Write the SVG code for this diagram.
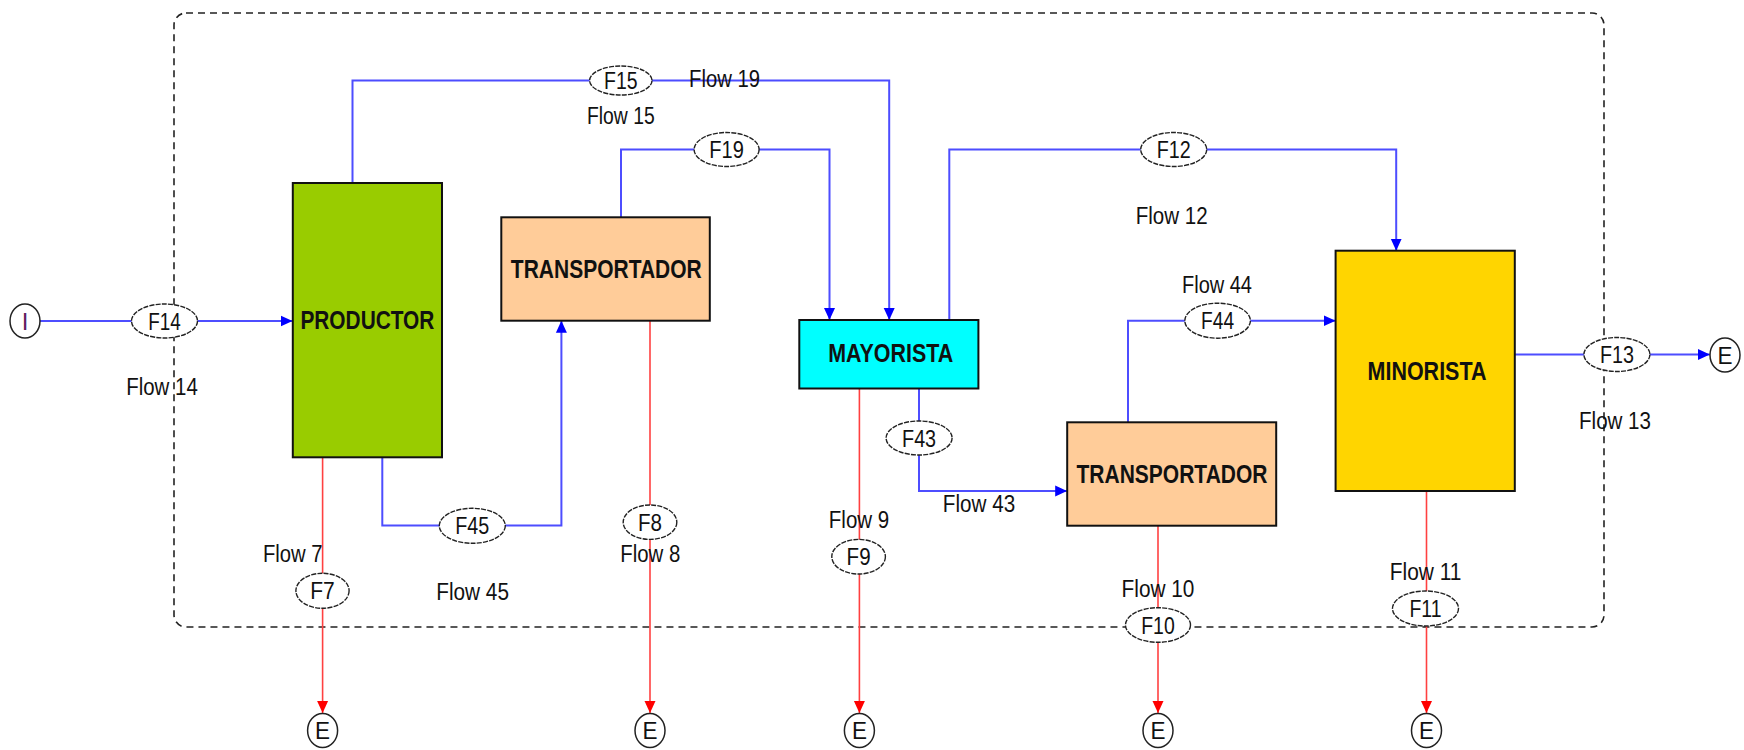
<svg xmlns="http://www.w3.org/2000/svg" width="1744" height="750" viewBox="0 0 1744 750">
<style>
text{font-family:"Liberation Sans",Arial,sans-serif;fill:#111}
.node{stroke:#111;stroke-width:2}
.nl{font-weight:bold;font-size:26px;text-anchor:middle}
.fl{font-size:23px;text-anchor:middle}
.tag{fill:#fff;stroke:#222;stroke-width:1.4;stroke-dasharray:5 1.2}
.tt{font-size:24px;text-anchor:middle}
.term{fill:#fff;stroke:#222;stroke-width:1.5}
.b{fill:none;stroke:#4d4dff;stroke-width:2;marker-end:url(#ab)}
.r{fill:none;stroke:#ff4040;stroke-width:1.6;marker-end:url(#ar)}
</style>
<defs>
<marker id="ab" markerUnits="userSpaceOnUse" markerWidth="12" markerHeight="12" refX="12" refY="6" orient="auto"><path d="M0,0.5 L12,6 L0,11.5 z" fill="#0000ff"/></marker>
<marker id="ar" markerUnits="userSpaceOnUse" markerWidth="12" markerHeight="12" refX="12" refY="6" orient="auto"><path d="M0,0.5 L12,6 L0,11.5 z" fill="#ff0000"/></marker>
</defs>
<rect width="1744" height="750" fill="#fff"/>
<rect id="boundary" x="174" y="13" width="1430" height="614" rx="12" fill="none" stroke="#222" stroke-width="1.6" stroke-dasharray="7 5"/>

<g id="connectors">
<path class="b" d="M40,321 H292.5"/>
<path class="b" d="M352.5,183 V80.5 H889.2 V320"/>
<path class="b" d="M621,217.3 V149.5 H829.5 V320"/>
<path class="b" d="M949.3,320 V149.5 H1396.2 V250.7"/>
<path class="b" d="M1128,422.3 V320.7 H1335.6"/>
<path class="b" d="M1514.8,354.5 H1709.8"/>
<path class="b" d="M382.3,457.3 V525.5 H561.4 V320.7"/>
<path class="b" d="M919,388.5 V491 H1067.2"/>
<path class="r" d="M322.6,457.3 V713"/>
<path class="r" d="M650,320.7 V713"/>
<path class="r" d="M859.4,388.5 V713"/>
<path class="r" d="M1158,525.7 V713"/>
<path class="r" d="M1426.5,491 V713"/>
</g>

<g id="node-productor"><rect class="node" x="292.8" y="183" width="149.2" height="274.3" fill="#99cc00"/><text class="nl" x="367.4" y="328.5" textLength="134" lengthAdjust="spacingAndGlyphs">PRODUCTOR</text></g>
<g id="node-transportador1"><rect class="node" x="501.3" y="217.3" width="208.5" height="103.4" fill="#ffcc99"/><text class="nl" x="606.3" y="277.5" textLength="191" lengthAdjust="spacingAndGlyphs">TRANSPORTADOR</text></g>
<g id="node-mayorista"><rect class="node" x="799.3" y="320" width="179.1" height="68.5" fill="#00ffff"/><text class="nl" x="890.7" y="361.5" textLength="125" lengthAdjust="spacingAndGlyphs">MAYORISTA</text></g>
<g id="node-transportador2"><rect class="node" x="1067.2" y="422.3" width="209" height="103.4" fill="#ffcc99"/><text class="nl" x="1172" y="482.5" textLength="191" lengthAdjust="spacingAndGlyphs">TRANSPORTADOR</text></g>
<g id="node-minorista"><rect class="node" x="1335.6" y="250.7" width="179.2" height="240.3" fill="#ffd500"/><text class="nl" x="1427" y="379.5" textLength="119" lengthAdjust="spacingAndGlyphs">MINORISTA</text></g>

<g id="term-in"><ellipse class="term" cx="25" cy="321" rx="15" ry="17"/><text class="tt" x="25" y="329.5" style="fill:#602060">I</text></g>
<g id="term-e13"><ellipse class="term" cx="1725" cy="355" rx="15" ry="17"/><text class="tt" x="1725" y="363.5" textLength="15" lengthAdjust="spacingAndGlyphs">E</text></g>
<g id="term-e7"><ellipse class="term" cx="322.6" cy="730.5" rx="15" ry="17"/><text class="tt" x="322.6" y="739" textLength="15" lengthAdjust="spacingAndGlyphs">E</text></g>
<g id="term-e8"><ellipse class="term" cx="650" cy="730.5" rx="15" ry="17"/><text class="tt" x="650" y="739" textLength="15" lengthAdjust="spacingAndGlyphs">E</text></g>
<g id="term-e9"><ellipse class="term" cx="859.4" cy="730.5" rx="15" ry="17"/><text class="tt" x="859.4" y="739" textLength="15" lengthAdjust="spacingAndGlyphs">E</text></g>
<g id="term-e10"><ellipse class="term" cx="1158" cy="730.5" rx="15" ry="17"/><text class="tt" x="1158" y="739" textLength="15" lengthAdjust="spacingAndGlyphs">E</text></g>
<g id="term-e11"><ellipse class="term" cx="1426.5" cy="730.5" rx="15" ry="17"/><text class="tt" x="1426.5" y="739" textLength="15" lengthAdjust="spacingAndGlyphs">E</text></g>

<g id="tag-f14"><ellipse class="tag" cx="164.5" cy="321" rx="33" ry="17"/><text class="tt" x="164.5" y="329.5" textLength="32.5" lengthAdjust="spacingAndGlyphs">F14</text></g>
<g id="tag-f15"><ellipse class="tag" cx="620.8" cy="80.5" rx="31.2" ry="14.5"/><text class="tt" x="620.8" y="89" textLength="33.5" lengthAdjust="spacingAndGlyphs">F15</text></g>
<g id="tag-f19"><ellipse class="tag" cx="726.6" cy="149.5" rx="32.5" ry="17"/><text class="tt" x="726.6" y="158" textLength="34.5" lengthAdjust="spacingAndGlyphs">F19</text></g>
<g id="tag-f12"><ellipse class="tag" cx="1173.7" cy="149.5" rx="33" ry="17"/><text class="tt" x="1173.7" y="158" textLength="34" lengthAdjust="spacingAndGlyphs">F12</text></g>
<g id="tag-f44"><ellipse class="tag" cx="1217.6" cy="320.7" rx="32.8" ry="17.5"/><text class="tt" x="1217.6" y="329.2" textLength="33" lengthAdjust="spacingAndGlyphs">F44</text></g>
<g id="tag-f13"><ellipse class="tag" cx="1616.9" cy="354.5" rx="33" ry="17"/><text class="tt" x="1616.9" y="363" textLength="34" lengthAdjust="spacingAndGlyphs">F13</text></g>
<g id="tag-f45"><ellipse class="tag" cx="472.3" cy="525.8" rx="33" ry="17.5"/><text class="tt" x="472.3" y="534.3" textLength="34" lengthAdjust="spacingAndGlyphs">F45</text></g>
<g id="tag-f43"><ellipse class="tag" cx="919.1" cy="438" rx="33" ry="17"/><text class="tt" x="919.1" y="446.5" textLength="34" lengthAdjust="spacingAndGlyphs">F43</text></g>
<g id="tag-f7"><ellipse class="tag" cx="322.5" cy="590.8" rx="26.6" ry="17.5"/><text class="tt" x="322.5" y="599.3" textLength="24.5" lengthAdjust="spacingAndGlyphs">F7</text></g>
<g id="tag-f8"><ellipse class="tag" cx="650" cy="522.2" rx="26.8" ry="17.2"/><text class="tt" x="650" y="530.7" textLength="24" lengthAdjust="spacingAndGlyphs">F8</text></g>
<g id="tag-f9"><ellipse class="tag" cx="858.6" cy="556.7" rx="26.8" ry="17.3"/><text class="tt" x="858.6" y="565.2" textLength="24" lengthAdjust="spacingAndGlyphs">F9</text></g>
<g id="tag-f10"><ellipse class="tag" cx="1158" cy="625" rx="32.5" ry="17.3"/><text class="tt" x="1158" y="633.5" textLength="33.5" lengthAdjust="spacingAndGlyphs">F10</text></g>
<g id="tag-f11"><ellipse class="tag" cx="1425.5" cy="608.5" rx="33" ry="17.5"/><text class="tt" x="1425.5" y="617" textLength="32" lengthAdjust="spacingAndGlyphs">F11</text></g>

<g id="flow-labels">
<text class="fl" x="162" y="395" textLength="71.5" lengthAdjust="spacingAndGlyphs">Flow 14</text>
<text class="fl" x="620.8" y="124" textLength="67.7" lengthAdjust="spacingAndGlyphs">Flow 15</text>
<text class="fl" x="724.6" y="87.3" textLength="71" lengthAdjust="spacingAndGlyphs">Flow 19</text>
<text class="fl" x="1171.7" y="224" textLength="72" lengthAdjust="spacingAndGlyphs">Flow 12</text>
<text class="fl" x="1217" y="292.7" textLength="70" lengthAdjust="spacingAndGlyphs">Flow 44</text>
<text class="fl" x="1615" y="429.3" textLength="72" lengthAdjust="spacingAndGlyphs">Flow 13</text>
<text class="fl" x="292.8" y="561.7" textLength="59.6" lengthAdjust="spacingAndGlyphs">Flow 7</text>
<text class="fl" x="472.6" y="600" textLength="72.7" lengthAdjust="spacingAndGlyphs">Flow 45</text>
<text class="fl" x="650.3" y="561.7" textLength="60" lengthAdjust="spacingAndGlyphs">Flow 8</text>
<text class="fl" x="859" y="527.7" textLength="60.4" lengthAdjust="spacingAndGlyphs">Flow 9</text>
<text class="fl" x="979" y="511.7" textLength="72.3" lengthAdjust="spacingAndGlyphs">Flow 43</text>
<text class="fl" x="1158" y="596.7" textLength="72.8" lengthAdjust="spacingAndGlyphs">Flow 10</text>
<text class="fl" x="1425.6" y="580" textLength="71.6" lengthAdjust="spacingAndGlyphs">Flow 11</text>
</g>
</svg>
